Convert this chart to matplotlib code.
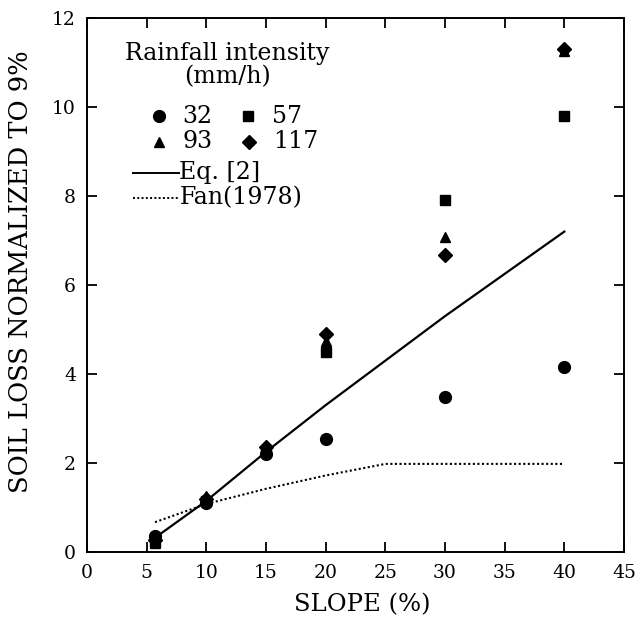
import numpy as np
import matplotlib
matplotlib.use("Agg")
import matplotlib.pyplot as plt
from matplotlib.lines import Line2D

# measured slopes (%)
slope = [5.7, 10.0, 15.0, 20.0, 30.0, 40.0]

# soil loss normalized to 9% slope, one list per rainfall intensity (mm/h)
loss_32 = [0.35, 1.10, 2.20, 2.55, 3.48, 4.15]
loss_57 = [0.22, 1.14, 2.26, 4.50, 7.90, 9.80]
loss_93 = [0.20, 1.25, 2.30, 4.75, 7.08, 11.25]
loss_117 = [0.28, 1.18, 2.37, 4.90, 6.68, 11.30]

# model curves
eq2_x = [5.7, 10, 15, 20, 30, 40]
eq2_y = [0.32, 1.15, 2.25, 3.30, 5.30, 7.20]
fan_x = [5.7, 10, 15, 20, 25, 40]
fan_y = [0.67, 1.08, 1.42, 1.72, 1.98, 1.98]

fig = plt.figure(figsize=(6.37, 6.19), dpi=100)
ax = fig.add_axes([87 / 637, 1 - 552 / 619, 537 / 637, 534 / 619])

series = [
    (loss_32, "o", 8.5),
    (loss_57, "s", 6.5),
    (loss_93, "^", 7.5),
    (loss_117, "D", 7.0),
]
for vals, mk, ms in series:
    ax.plot(slope, vals, ls="none", marker=mk, ms=ms, color="black")

ax.plot(eq2_x, eq2_y, color="black", lw=1.6)
ax.plot(fan_x, fan_y, color="black", lw=1.5, ls=(0, (1, 1.2)))

ax.set_xlim(0, 45)
ax.set_ylim(0, 12)
ax.set_xticks(np.arange(0, 46, 5))
ax.set_yticks(np.arange(0, 13, 2))

tick_font = dict(family="DejaVu Serif", size=13.5)
ax.set_xticklabels([str(v) for v in range(0, 46, 5)], **tick_font)
ax.set_yticklabels([str(v) for v in range(0, 13, 2)], **tick_font)
ax.tick_params(direction="in", length=7, width=1.3, top=True, right=True)
ax.tick_params(axis="x", pad=9)
ax.tick_params(axis="y", pad=8)
for sp in ax.spines.values():
    sp.set_linewidth(1.4)

ax.set_xlabel("SLOPE (%)", family="DejaVu Serif", size=17.5)
ax.xaxis.set_label_coords(0.513, -0.077)
ax.set_ylabel("SOIL LOSS NORMALIZED TO 9%", family="DejaVu Serif", size=18.5)
ax.yaxis.set_label_coords(-0.10, 0.525)

# legend, drawn by hand to match the original layout
lt = dict(family="DejaVu Serif", size=17, transform=ax.transAxes, va="center")
ax.text(0.261, 0.934, "Rainfall intensity", ha="center", **lt)
ax.text(0.261, 0.890, "(mm/h)", ha="center", **lt)

leg_rows = [
    (0.134, 0.816, "o", 8.5, "32"),
    (0.300, 0.816, "s", 6.5, "57"),
    (0.134, 0.768, "^", 7.5, "93"),
    (0.302, 0.768, "D", 7.0, "117"),
]
for fx, fy, mk, ms, lab in leg_rows:
    ax.add_line(Line2D([fx], [fy], marker=mk, ms=ms, color="black",
                       transform=ax.transAxes))
    ax.text(fx + 0.044, fy, lab, ha="left", **lt)

ax.add_line(Line2D([0.086, 0.171], [0.710, 0.710], color="black", lw=1.4,
                   transform=ax.transAxes))
ax.text(0.172, 0.710, "Eq. [2]", ha="left", **lt)
ax.add_line(Line2D([0.086, 0.171], [0.663, 0.663], color="black", lw=1.4,
                   ls=(0, (1, 1.2)), transform=ax.transAxes))
ax.text(0.172, 0.663, "Fan(1978)", ha="left", **lt)

fig.savefig("out.png", dpi=100)
